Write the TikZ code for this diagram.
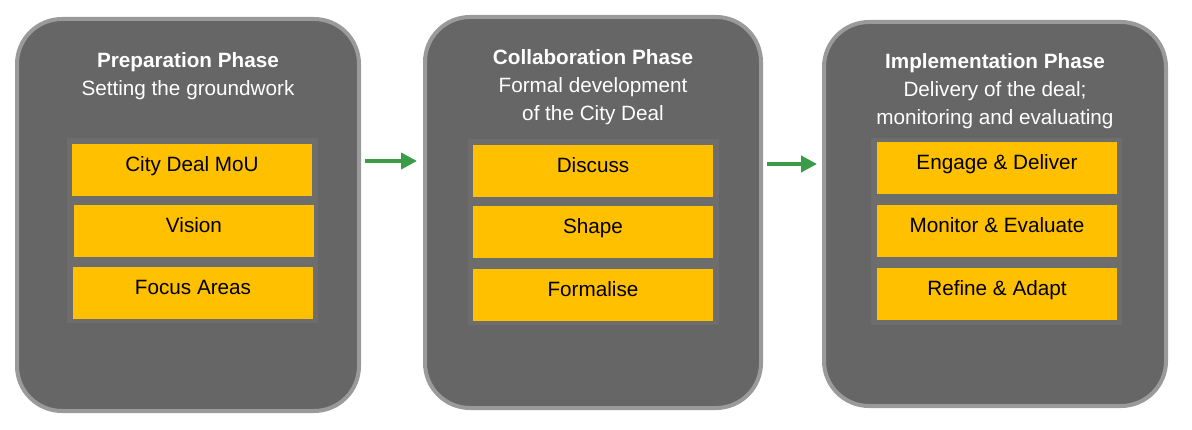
\documentclass[tikz,border=0pt]{standalone}
\usepackage{fontspec}
\setmainfont{Liberation Sans}
\definecolor{cdPhase}{HTML}{666666}
\definecolor{cdEdge}{HTML}{9A9A9A}
\definecolor{cdFrame}{HTML}{6D6D6D}
\definecolor{cdCell}{HTML}{FFC000}
\definecolor{cdGreen}{HTML}{3A9C47}
\usetikzlibrary{positioning,arrows.meta}

\begin{document}
\begin{tikzpicture}[x=1pt, y=-1pt,
  phase/.style={rounded corners=45pt, fill=cdPhase, draw=cdEdge, line width=4pt,
    inner sep=0pt},
  hdr/.style={text=white, align=center, anchor=north, inner sep=0pt,
    font=\fontsize{20.7}{28}\selectfont},
  frame/.style={fill=cdFrame, inner sep=0pt, minimum width=251pt},
  cell/.style={fill=cdCell, text=black, inner sep=0pt, minimum width=240pt,
    minimum height=52pt, text height=15pt, text depth=12pt,
    font=\fontsize{20.7}{24}\selectfont},
  arr/.style={-{Triangle[length=16pt,width=16pt]}, line width=4.5pt, color=cdGreen}
]
  \useasboundingbox (0,0) rectangle (1192,430);
  % Phase boxes
  \node[phase, minimum width=342pt, minimum height=392pt] (prep) at (188,215) {};
  \node[phase, minimum width=336pt, minimum height=391pt] (collab) at (593,212.5) {};
  \node[phase, minimum width=342pt, minimum height=384pt] (impl) at (995,214) {};
  % Phase headings
  \node[hdr] (prepHdr) at (188,52) {\textbf{Preparation Phase}\\Setting the groundwork};
  \node[hdr] (collabHdr) at (593,49) {\textbf{Collaboration Phase}\\Formal development\\of the City Deal};
  \node[hdr] (implHdr) at (995,53) {\textbf{Implementation Phase}\\Delivery of the deal;\\monitoring and evaluating};
  % Frames behind the step cells
  \node[frame, minimum height=185pt] (prepFrame) at (192.5,230.5) {};
  \node[frame, minimum height=186pt] (collabFrame) at (593.5,232) {};
  \node[frame, minimum height=187pt] (implFrame) at (996.5,231.5) {};
  % Preparation steps
  \node[cell] (prepA) at (192,170) {City Deal MoU};
  \node[cell] (prepB) at (194,231) {Vision};
  \node[cell] (prepC) at (193,293.5) {Focus Areas};
  % Collaboration steps
  \node[cell] (collabA) at (593,171) {Discuss};
  \node[cell] (collabB) at (593,232.5) {Shape};
  \node[cell] (collabC) at (593,295) {Formalise};
  % Implementation steps
  \node[cell] (implA) at (997,168.5) {Engage \& Deliver};
  \node[cell] (implB) at (997,231.5) {Monitor \& Evaluate};
  \node[cell] (implC) at (997,294.5) {Refine \& Adapt};
  % Arrows between phases
  \coordinate (arrA) at (0,161);
  \coordinate (arrB) at (0,164);
  \draw[arr, shorten <=4pt, shorten >=6pt] (prep.east |- arrA) -- (collab.west |- arrA);
  \draw[arr, shorten <=4pt, shorten >=5pt] (collab.east |- arrB) -- (impl.west |- arrB);
\end{tikzpicture}
\end{document}
